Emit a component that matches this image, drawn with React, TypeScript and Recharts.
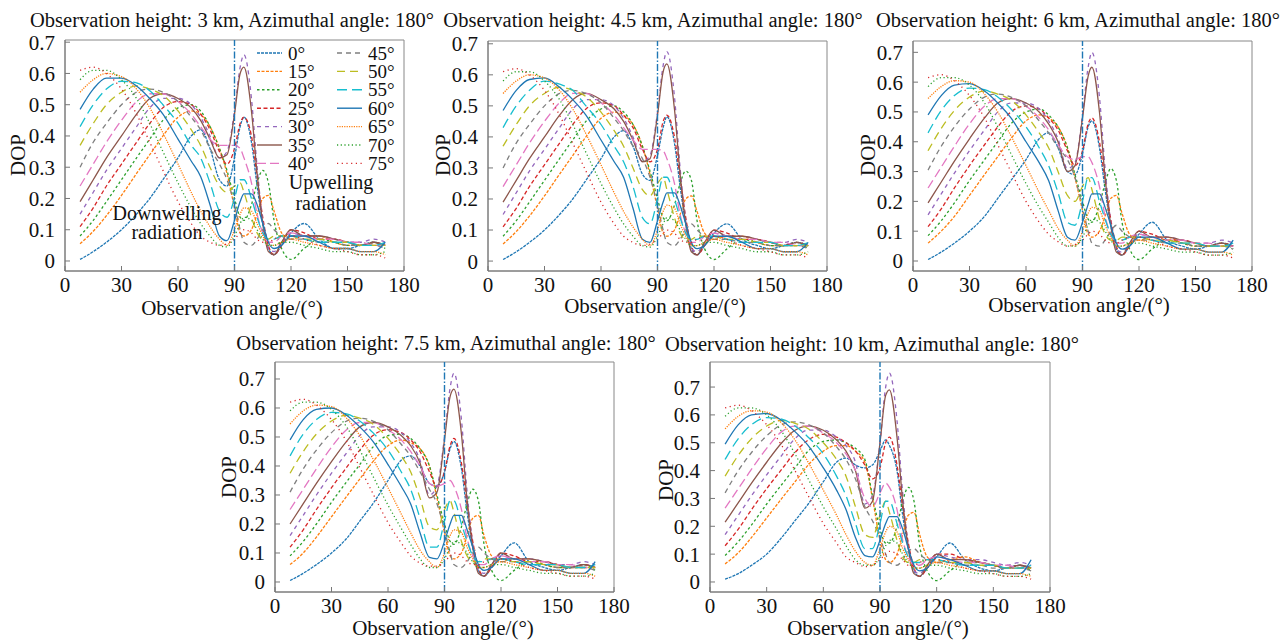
import React from 'react';
import { LineChart, Line, XAxis, YAxis, ReferenceLine, ReferenceArea } from 'recharts';

// observation angles (deg) where the curves are sampled
const angles = [8, 15, 22, 30, 38, 45, 52, 60, 67, 72, 77, 82, 86, 90, 93, 95, 99, 102, 105, 108, 111, 115, 120, 127, 135, 143, 150, 157, 164, 170];

// solar zenith angle of each series
const zenithLabels = ['0°', '15°', '20°', '25°', '30°', '35°', '40°', '45°', '50°', '55°', '60°', '65°', '70°', '75°'];

const xTicks = [0, 30, 60, 90, 120, 150, 180];
const yTicks = [0, 0.1, 0.2, 0.3, 0.4, 0.5, 0.6, 0.7];

// DOP values, one row per zenith angle (same order as zenithLabels)
const dop3km = [
    [0.005, 0.03, 0.06, 0.10, 0.15, 0.20, 0.26, 0.33, 0.40, 0.42, 0.36, 0.26, 0.24, 0.33, 0.43, 0.46, 0.38, 0.24, 0.12, 0.04, 0.02, 0.05, 0.09, 0.12, 0.07, 0.04, 0.04, 0.05, 0.06, 0.05],
    [0.055, 0.095, 0.145, 0.21, 0.28, 0.34, 0.40, 0.46, 0.48, 0.47, 0.43, 0.36, 0.28, 0.17, 0.09, 0.08, 0.10, 0.15, 0.20, 0.21, 0.16, 0.09, 0.07, 0.08, 0.08, 0.06, 0.05, 0.05, 0.05, 0.05],
    [0.08, 0.13, 0.19, 0.26, 0.33, 0.39, 0.45, 0.49, 0.50, 0.48, 0.43, 0.36, 0.29, 0.20, 0.14, 0.13, 0.18, 0.25, 0.29, 0.25, 0.13, 0.04, 0.005, 0.04, 0.07, 0.06, 0.05, 0.05, 0.06, 0.04],
    [0.11, 0.17, 0.24, 0.31, 0.38, 0.44, 0.49, 0.51, 0.50, 0.47, 0.42, 0.35, 0.31, 0.36, 0.44, 0.46, 0.40, 0.27, 0.14, 0.05, 0.02, 0.05, 0.10, 0.09, 0.07, 0.07, 0.06, 0.05, 0.06, 0.05],
    [0.15, 0.22, 0.29, 0.36, 0.43, 0.49, 0.52, 0.52, 0.50, 0.46, 0.40, 0.33, 0.35, 0.48, 0.62, 0.66, 0.52, 0.30, 0.13, 0.04, 0.03, 0.06, 0.09, 0.08, 0.08, 0.07, 0.06, 0.06, 0.07, 0.06],
    [0.19, 0.26, 0.33, 0.40, 0.47, 0.52, 0.535, 0.52, 0.49, 0.45, 0.39, 0.33, 0.34, 0.47, 0.60, 0.62, 0.48, 0.28, 0.12, 0.03, 0.02, 0.06, 0.10, 0.08, 0.08, 0.07, 0.06, 0.05, 0.06, 0.05],
    [0.24, 0.31, 0.38, 0.45, 0.51, 0.535, 0.535, 0.51, 0.47, 0.43, 0.39, 0.37, 0.37, 0.37, 0.36, 0.33, 0.25, 0.15, 0.09, 0.06, 0.06, 0.08, 0.09, 0.08, 0.07, 0.07, 0.06, 0.06, 0.05, 0.05],
    [0.30, 0.38, 0.44, 0.50, 0.54, 0.55, 0.54, 0.51, 0.46, 0.42, 0.36, 0.31, 0.26, 0.18, 0.10, 0.06, 0.05, 0.07, 0.10, 0.12, 0.10, 0.08, 0.07, 0.07, 0.06, 0.06, 0.05, 0.05, 0.05, 0.04],
    [0.37, 0.44, 0.50, 0.54, 0.56, 0.55, 0.53, 0.48, 0.42, 0.37, 0.30, 0.24, 0.22, 0.24, 0.25, 0.22, 0.14, 0.09, 0.07, 0.07, 0.08, 0.08, 0.08, 0.07, 0.07, 0.06, 0.06, 0.05, 0.05, 0.05],
    [0.43, 0.50, 0.55, 0.575, 0.57, 0.545, 0.50, 0.44, 0.37, 0.33, 0.25, 0.16, 0.14, 0.20, 0.26, 0.26, 0.20, 0.14, 0.09, 0.07, 0.07, 0.08, 0.08, 0.07, 0.06, 0.06, 0.06, 0.05, 0.05, 0.06],
    [0.485, 0.55, 0.585, 0.585, 0.56, 0.52, 0.47, 0.39, 0.32, 0.27, 0.18, 0.08, 0.065, 0.13, 0.19, 0.215, 0.215, 0.18, 0.12, 0.06, 0.04, 0.05, 0.08, 0.08, 0.06, 0.04, 0.04, 0.03, 0.03, 0.06],
    [0.54, 0.58, 0.60, 0.59, 0.55, 0.49, 0.41, 0.31, 0.22, 0.16, 0.11, 0.07, 0.05, 0.10, 0.15, 0.17, 0.16, 0.12, 0.08, 0.05, 0.05, 0.06, 0.07, 0.06, 0.05, 0.04, 0.04, 0.03, 0.03, 0.02],
    [0.58, 0.61, 0.61, 0.58, 0.52, 0.44, 0.35, 0.25, 0.17, 0.12, 0.08, 0.05, 0.045, 0.08, 0.12, 0.14, 0.13, 0.10, 0.07, 0.05, 0.05, 0.06, 0.06, 0.05, 0.04, 0.03, 0.03, 0.02, 0.02, 0.03],
    [0.61, 0.62, 0.60, 0.55, 0.47, 0.38, 0.29, 0.19, 0.12, 0.08, 0.06, 0.05, 0.055, 0.07, 0.09, 0.10, 0.09, 0.07, 0.06, 0.06, 0.07, 0.08, 0.08, 0.07, 0.05, 0.04, 0.03, 0.02, 0.02, 0.01],
];

const dop4_5km = [
    [0.005, 0.03, 0.06, 0.10, 0.15, 0.20, 0.26, 0.33, 0.40, 0.42, 0.37, 0.28, 0.26, 0.34, 0.43, 0.465, 0.38, 0.24, 0.12, 0.04, 0.02, 0.05, 0.09, 0.12, 0.07, 0.05, 0.04, 0.05, 0.06, 0.05],
    [0.055, 0.095, 0.145, 0.21, 0.28, 0.34, 0.40, 0.46, 0.48, 0.47, 0.44, 0.37, 0.28, 0.17, 0.09, 0.08, 0.10, 0.15, 0.20, 0.21, 0.16, 0.09, 0.07, 0.08, 0.08, 0.06, 0.05, 0.05, 0.05, 0.05],
    [0.08, 0.13, 0.19, 0.26, 0.33, 0.39, 0.45, 0.49, 0.50, 0.48, 0.44, 0.37, 0.29, 0.20, 0.14, 0.13, 0.18, 0.25, 0.29, 0.26, 0.13, 0.04, 0.005, 0.04, 0.07, 0.06, 0.05, 0.05, 0.06, 0.04],
    [0.11, 0.17, 0.24, 0.31, 0.38, 0.44, 0.49, 0.51, 0.50, 0.47, 0.43, 0.36, 0.32, 0.36, 0.45, 0.47, 0.40, 0.27, 0.14, 0.05, 0.02, 0.05, 0.10, 0.09, 0.07, 0.07, 0.06, 0.05, 0.06, 0.05],
    [0.15, 0.22, 0.29, 0.36, 0.43, 0.49, 0.52, 0.52, 0.50, 0.46, 0.40, 0.32, 0.34, 0.48, 0.63, 0.675, 0.53, 0.30, 0.13, 0.04, 0.03, 0.06, 0.09, 0.08, 0.08, 0.07, 0.06, 0.06, 0.07, 0.06],
    [0.19, 0.26, 0.33, 0.40, 0.47, 0.52, 0.54, 0.52, 0.49, 0.45, 0.39, 0.32, 0.33, 0.47, 0.61, 0.635, 0.49, 0.28, 0.12, 0.03, 0.02, 0.06, 0.10, 0.08, 0.08, 0.07, 0.06, 0.05, 0.06, 0.05],
    [0.24, 0.31, 0.38, 0.45, 0.51, 0.54, 0.54, 0.51, 0.47, 0.43, 0.39, 0.36, 0.36, 0.36, 0.355, 0.33, 0.25, 0.15, 0.09, 0.06, 0.06, 0.08, 0.09, 0.08, 0.07, 0.07, 0.06, 0.06, 0.05, 0.05],
    [0.30, 0.38, 0.44, 0.50, 0.54, 0.55, 0.54, 0.51, 0.46, 0.42, 0.37, 0.33, 0.27, 0.18, 0.10, 0.06, 0.05, 0.07, 0.10, 0.12, 0.10, 0.08, 0.07, 0.07, 0.06, 0.06, 0.05, 0.05, 0.05, 0.04],
    [0.37, 0.44, 0.50, 0.54, 0.56, 0.55, 0.53, 0.48, 0.42, 0.37, 0.30, 0.23, 0.21, 0.25, 0.27, 0.23, 0.14, 0.09, 0.07, 0.07, 0.08, 0.08, 0.08, 0.07, 0.07, 0.06, 0.06, 0.05, 0.05, 0.05],
    [0.43, 0.50, 0.55, 0.58, 0.57, 0.55, 0.50, 0.44, 0.37, 0.32, 0.24, 0.14, 0.12, 0.20, 0.27, 0.27, 0.20, 0.14, 0.09, 0.07, 0.07, 0.08, 0.08, 0.07, 0.06, 0.06, 0.06, 0.05, 0.05, 0.06],
    [0.485, 0.55, 0.585, 0.59, 0.56, 0.52, 0.47, 0.39, 0.32, 0.27, 0.17, 0.07, 0.06, 0.13, 0.19, 0.22, 0.22, 0.18, 0.12, 0.06, 0.04, 0.05, 0.08, 0.08, 0.06, 0.04, 0.04, 0.03, 0.03, 0.06],
    [0.54, 0.58, 0.60, 0.59, 0.55, 0.49, 0.41, 0.31, 0.22, 0.16, 0.11, 0.07, 0.05, 0.10, 0.16, 0.18, 0.17, 0.12, 0.08, 0.05, 0.05, 0.06, 0.07, 0.06, 0.05, 0.04, 0.04, 0.03, 0.03, 0.02],
    [0.58, 0.61, 0.61, 0.58, 0.52, 0.44, 0.35, 0.25, 0.17, 0.12, 0.08, 0.05, 0.045, 0.08, 0.12, 0.14, 0.13, 0.10, 0.07, 0.05, 0.05, 0.06, 0.06, 0.05, 0.04, 0.03, 0.03, 0.02, 0.02, 0.03],
    [0.61, 0.62, 0.60, 0.55, 0.47, 0.38, 0.29, 0.19, 0.12, 0.08, 0.06, 0.05, 0.055, 0.07, 0.09, 0.10, 0.09, 0.07, 0.06, 0.06, 0.07, 0.08, 0.08, 0.07, 0.05, 0.04, 0.03, 0.02, 0.02, 0.01],
];

const dop6km = [
    [0.005, 0.03, 0.06, 0.10, 0.15, 0.21, 0.27, 0.34, 0.41, 0.43, 0.38, 0.30, 0.29, 0.36, 0.45, 0.47, 0.38, 0.24, 0.12, 0.04, 0.02, 0.05, 0.09, 0.13, 0.07, 0.05, 0.04, 0.05, 0.06, 0.05],
    [0.06, 0.10, 0.15, 0.22, 0.29, 0.35, 0.41, 0.47, 0.49, 0.48, 0.45, 0.38, 0.28, 0.17, 0.09, 0.08, 0.10, 0.15, 0.21, 0.22, 0.16, 0.09, 0.07, 0.08, 0.08, 0.06, 0.05, 0.05, 0.05, 0.05],
    [0.085, 0.135, 0.195, 0.27, 0.34, 0.40, 0.46, 0.50, 0.51, 0.49, 0.45, 0.38, 0.29, 0.20, 0.14, 0.13, 0.19, 0.26, 0.31, 0.27, 0.13, 0.04, 0.005, 0.04, 0.07, 0.06, 0.05, 0.05, 0.06, 0.04],
    [0.115, 0.175, 0.245, 0.32, 0.39, 0.45, 0.50, 0.52, 0.51, 0.48, 0.44, 0.37, 0.32, 0.37, 0.46, 0.48, 0.40, 0.27, 0.14, 0.05, 0.02, 0.05, 0.10, 0.09, 0.07, 0.07, 0.06, 0.05, 0.06, 0.05],
    [0.155, 0.225, 0.295, 0.37, 0.44, 0.50, 0.53, 0.53, 0.51, 0.47, 0.41, 0.31, 0.33, 0.49, 0.65, 0.70, 0.55, 0.31, 0.13, 0.04, 0.03, 0.06, 0.09, 0.08, 0.08, 0.07, 0.06, 0.06, 0.07, 0.06],
    [0.195, 0.265, 0.335, 0.41, 0.48, 0.53, 0.545, 0.53, 0.50, 0.46, 0.40, 0.30, 0.32, 0.48, 0.62, 0.65, 0.50, 0.28, 0.12, 0.03, 0.02, 0.06, 0.10, 0.08, 0.08, 0.07, 0.06, 0.05, 0.06, 0.05],
    [0.245, 0.315, 0.385, 0.46, 0.52, 0.545, 0.545, 0.52, 0.48, 0.44, 0.39, 0.35, 0.34, 0.35, 0.35, 0.33, 0.25, 0.15, 0.09, 0.06, 0.06, 0.08, 0.09, 0.08, 0.07, 0.07, 0.06, 0.06, 0.05, 0.05],
    [0.305, 0.385, 0.45, 0.51, 0.55, 0.56, 0.55, 0.52, 0.47, 0.43, 0.38, 0.34, 0.28, 0.18, 0.10, 0.06, 0.05, 0.07, 0.10, 0.12, 0.10, 0.08, 0.07, 0.07, 0.06, 0.06, 0.05, 0.05, 0.05, 0.04],
    [0.37, 0.445, 0.505, 0.55, 0.57, 0.56, 0.54, 0.49, 0.43, 0.38, 0.30, 0.22, 0.20, 0.25, 0.28, 0.24, 0.14, 0.09, 0.07, 0.07, 0.08, 0.08, 0.08, 0.07, 0.07, 0.06, 0.06, 0.05, 0.05, 0.05],
    [0.43, 0.505, 0.555, 0.58, 0.575, 0.55, 0.51, 0.45, 0.38, 0.32, 0.23, 0.13, 0.12, 0.20, 0.28, 0.28, 0.20, 0.14, 0.09, 0.07, 0.07, 0.08, 0.08, 0.07, 0.06, 0.06, 0.06, 0.05, 0.05, 0.06],
    [0.49, 0.555, 0.59, 0.595, 0.57, 0.53, 0.48, 0.40, 0.33, 0.27, 0.17, 0.08, 0.07, 0.13, 0.19, 0.225, 0.225, 0.18, 0.12, 0.06, 0.04, 0.05, 0.08, 0.08, 0.06, 0.04, 0.04, 0.03, 0.03, 0.07],
    [0.545, 0.585, 0.605, 0.60, 0.56, 0.50, 0.42, 0.32, 0.23, 0.17, 0.11, 0.07, 0.05, 0.10, 0.16, 0.18, 0.17, 0.12, 0.08, 0.05, 0.05, 0.06, 0.07, 0.06, 0.05, 0.04, 0.04, 0.03, 0.03, 0.02],
    [0.585, 0.615, 0.615, 0.59, 0.53, 0.45, 0.36, 0.26, 0.18, 0.13, 0.08, 0.05, 0.05, 0.08, 0.12, 0.14, 0.13, 0.10, 0.07, 0.05, 0.05, 0.06, 0.06, 0.05, 0.04, 0.03, 0.03, 0.02, 0.02, 0.03],
    [0.615, 0.625, 0.605, 0.555, 0.48, 0.39, 0.30, 0.20, 0.13, 0.09, 0.065, 0.05, 0.055, 0.07, 0.09, 0.10, 0.09, 0.07, 0.06, 0.06, 0.07, 0.08, 0.08, 0.07, 0.05, 0.04, 0.03, 0.02, 0.02, 0.01],
];

const dop7_5km = [
    [0.005, 0.03, 0.06, 0.10, 0.15, 0.21, 0.27, 0.35, 0.42, 0.435, 0.40, 0.34, 0.33, 0.38, 0.46, 0.485, 0.39, 0.24, 0.12, 0.04, 0.02, 0.05, 0.09, 0.135, 0.07, 0.05, 0.04, 0.05, 0.06, 0.05],
    [0.06, 0.10, 0.155, 0.225, 0.295, 0.355, 0.415, 0.47, 0.49, 0.48, 0.46, 0.40, 0.29, 0.17, 0.09, 0.08, 0.10, 0.16, 0.22, 0.23, 0.16, 0.09, 0.07, 0.08, 0.08, 0.06, 0.05, 0.05, 0.05, 0.05],
    [0.09, 0.14, 0.20, 0.275, 0.345, 0.405, 0.465, 0.505, 0.51, 0.495, 0.46, 0.40, 0.30, 0.20, 0.14, 0.13, 0.19, 0.27, 0.32, 0.28, 0.13, 0.04, 0.005, 0.04, 0.07, 0.06, 0.05, 0.05, 0.06, 0.04],
    [0.12, 0.18, 0.25, 0.325, 0.395, 0.455, 0.505, 0.525, 0.515, 0.49, 0.45, 0.38, 0.33, 0.38, 0.47, 0.495, 0.41, 0.27, 0.14, 0.05, 0.02, 0.05, 0.10, 0.09, 0.07, 0.07, 0.06, 0.05, 0.06, 0.05],
    [0.16, 0.23, 0.30, 0.375, 0.445, 0.505, 0.535, 0.535, 0.515, 0.48, 0.42, 0.30, 0.33, 0.50, 0.67, 0.72, 0.56, 0.31, 0.13, 0.04, 0.03, 0.06, 0.09, 0.08, 0.08, 0.07, 0.06, 0.06, 0.07, 0.06],
    [0.20, 0.27, 0.34, 0.415, 0.485, 0.535, 0.55, 0.535, 0.505, 0.47, 0.41, 0.29, 0.31, 0.49, 0.64, 0.665, 0.51, 0.28, 0.12, 0.03, 0.02, 0.06, 0.10, 0.08, 0.08, 0.07, 0.06, 0.05, 0.06, 0.05],
    [0.25, 0.32, 0.39, 0.465, 0.525, 0.55, 0.55, 0.525, 0.49, 0.45, 0.40, 0.34, 0.33, 0.34, 0.35, 0.33, 0.25, 0.15, 0.09, 0.06, 0.06, 0.08, 0.09, 0.08, 0.07, 0.07, 0.06, 0.06, 0.05, 0.05],
    [0.31, 0.39, 0.455, 0.515, 0.555, 0.565, 0.555, 0.525, 0.475, 0.435, 0.38, 0.32, 0.27, 0.18, 0.10, 0.06, 0.05, 0.07, 0.10, 0.12, 0.10, 0.08, 0.07, 0.07, 0.06, 0.06, 0.05, 0.05, 0.05, 0.04],
    [0.375, 0.45, 0.51, 0.555, 0.575, 0.565, 0.545, 0.495, 0.435, 0.38, 0.29, 0.19, 0.18, 0.25, 0.28, 0.24, 0.14, 0.09, 0.07, 0.07, 0.08, 0.08, 0.08, 0.07, 0.07, 0.06, 0.06, 0.05, 0.05, 0.05],
    [0.435, 0.51, 0.56, 0.585, 0.58, 0.555, 0.515, 0.455, 0.38, 0.32, 0.22, 0.12, 0.12, 0.21, 0.28, 0.28, 0.20, 0.14, 0.09, 0.07, 0.07, 0.08, 0.08, 0.07, 0.06, 0.06, 0.06, 0.05, 0.05, 0.06],
    [0.49, 0.56, 0.595, 0.60, 0.575, 0.535, 0.485, 0.405, 0.33, 0.27, 0.17, 0.085, 0.08, 0.14, 0.20, 0.23, 0.23, 0.18, 0.12, 0.06, 0.04, 0.05, 0.08, 0.08, 0.06, 0.04, 0.04, 0.03, 0.03, 0.07],
    [0.545, 0.59, 0.61, 0.605, 0.565, 0.505, 0.425, 0.325, 0.235, 0.17, 0.11, 0.07, 0.05, 0.10, 0.16, 0.18, 0.17, 0.12, 0.08, 0.05, 0.05, 0.06, 0.07, 0.06, 0.05, 0.04, 0.04, 0.03, 0.03, 0.02],
    [0.59, 0.62, 0.62, 0.595, 0.535, 0.455, 0.365, 0.265, 0.185, 0.13, 0.08, 0.05, 0.05, 0.08, 0.12, 0.14, 0.13, 0.10, 0.07, 0.05, 0.05, 0.06, 0.06, 0.05, 0.04, 0.03, 0.03, 0.02, 0.02, 0.03],
    [0.62, 0.63, 0.61, 0.56, 0.485, 0.395, 0.305, 0.205, 0.135, 0.09, 0.065, 0.055, 0.055, 0.07, 0.09, 0.10, 0.09, 0.07, 0.06, 0.06, 0.07, 0.08, 0.08, 0.07, 0.05, 0.04, 0.03, 0.02, 0.02, 0.01],
];

const dop10km = [
    [0.01, 0.03, 0.06, 0.10, 0.16, 0.22, 0.28, 0.36, 0.43, 0.445, 0.42, 0.41, 0.42, 0.47, 0.51, 0.49, 0.40, 0.24, 0.12, 0.04, 0.02, 0.05, 0.09, 0.14, 0.08, 0.05, 0.04, 0.05, 0.06, 0.05],
    [0.065, 0.105, 0.16, 0.23, 0.30, 0.36, 0.42, 0.47, 0.49, 0.49, 0.47, 0.43, 0.30, 0.15, 0.08, 0.07, 0.10, 0.17, 0.24, 0.25, 0.17, 0.09, 0.07, 0.08, 0.09, 0.07, 0.06, 0.05, 0.05, 0.05],
    [0.095, 0.145, 0.205, 0.28, 0.35, 0.41, 0.47, 0.505, 0.51, 0.50, 0.48, 0.44, 0.31, 0.19, 0.14, 0.14, 0.20, 0.29, 0.34, 0.29, 0.13, 0.04, 0.005, 0.04, 0.07, 0.07, 0.06, 0.05, 0.06, 0.04],
    [0.13, 0.19, 0.26, 0.335, 0.405, 0.465, 0.51, 0.53, 0.52, 0.50, 0.47, 0.42, 0.37, 0.41, 0.50, 0.52, 0.42, 0.27, 0.14, 0.05, 0.02, 0.05, 0.10, 0.10, 0.08, 0.07, 0.06, 0.05, 0.06, 0.05],
    [0.17, 0.24, 0.31, 0.385, 0.455, 0.515, 0.545, 0.545, 0.52, 0.49, 0.43, 0.28, 0.31, 0.50, 0.70, 0.75, 0.58, 0.32, 0.13, 0.04, 0.03, 0.06, 0.10, 0.09, 0.08, 0.08, 0.07, 0.06, 0.07, 0.06],
    [0.215, 0.285, 0.355, 0.43, 0.50, 0.545, 0.56, 0.545, 0.51, 0.47, 0.40, 0.265, 0.29, 0.50, 0.67, 0.69, 0.52, 0.29, 0.12, 0.03, 0.02, 0.06, 0.10, 0.08, 0.08, 0.07, 0.06, 0.05, 0.06, 0.05],
    [0.265, 0.335, 0.405, 0.48, 0.54, 0.56, 0.56, 0.535, 0.50, 0.46, 0.40, 0.30, 0.27, 0.32, 0.355, 0.34, 0.26, 0.15, 0.09, 0.06, 0.06, 0.08, 0.09, 0.08, 0.07, 0.07, 0.06, 0.06, 0.05, 0.05],
    [0.32, 0.40, 0.465, 0.525, 0.565, 0.575, 0.565, 0.535, 0.485, 0.44, 0.37, 0.27, 0.22, 0.16, 0.10, 0.07, 0.06, 0.08, 0.11, 0.12, 0.10, 0.08, 0.07, 0.07, 0.06, 0.06, 0.05, 0.05, 0.05, 0.04],
    [0.38, 0.455, 0.515, 0.56, 0.58, 0.57, 0.55, 0.50, 0.44, 0.38, 0.27, 0.17, 0.16, 0.24, 0.29, 0.25, 0.15, 0.09, 0.07, 0.07, 0.08, 0.08, 0.08, 0.07, 0.07, 0.06, 0.06, 0.05, 0.05, 0.05],
    [0.44, 0.515, 0.565, 0.59, 0.585, 0.56, 0.52, 0.46, 0.38, 0.31, 0.21, 0.12, 0.12, 0.21, 0.29, 0.29, 0.21, 0.14, 0.09, 0.07, 0.07, 0.08, 0.08, 0.07, 0.06, 0.06, 0.06, 0.05, 0.05, 0.06],
    [0.495, 0.565, 0.60, 0.605, 0.58, 0.54, 0.49, 0.41, 0.33, 0.26, 0.16, 0.095, 0.09, 0.15, 0.21, 0.235, 0.235, 0.19, 0.12, 0.06, 0.04, 0.05, 0.09, 0.08, 0.06, 0.04, 0.04, 0.03, 0.03, 0.08],
    [0.55, 0.595, 0.615, 0.61, 0.57, 0.51, 0.43, 0.33, 0.24, 0.17, 0.11, 0.07, 0.06, 0.12, 0.18, 0.20, 0.18, 0.12, 0.08, 0.05, 0.05, 0.06, 0.07, 0.06, 0.05, 0.04, 0.04, 0.03, 0.03, 0.02],
    [0.595, 0.625, 0.625, 0.60, 0.54, 0.46, 0.37, 0.27, 0.19, 0.13, 0.08, 0.06, 0.06, 0.09, 0.13, 0.15, 0.14, 0.10, 0.07, 0.05, 0.05, 0.06, 0.06, 0.05, 0.04, 0.03, 0.03, 0.02, 0.02, 0.03],
    [0.625, 0.635, 0.615, 0.565, 0.49, 0.40, 0.31, 0.21, 0.14, 0.09, 0.07, 0.055, 0.06, 0.08, 0.10, 0.11, 0.10, 0.08, 0.06, 0.06, 0.07, 0.08, 0.08, 0.07, 0.05, 0.04, 0.03, 0.02, 0.02, 0.01],
];

const FONT = '"Liberation Serif", "Times New Roman", serif';

const seriesColors = ['#1f77b4', '#ff7f0e', '#2ca02c', '#d62728', '#9467bd', '#8c564b', '#e377c2', '#7f7f7f', '#bcbd22', '#17becf', '#1f77b4', '#ff7f0e', '#2ca02c', '#d62728'];
const seriesDash = ['3 1', '3 1.5', '2.5 2.5', '4 2.5', '4 4', '', '9 4', '5 4', '8 5', '10 5', '', '1.2 1.2', '1.2 2.5', '1.2 3.5'];

// page layout of each subplot: plot box edges in px, y domain, text anchors
const panels = [
    { title: 'Observation height: 3 km, Azimuthal angle: 180°', dop: dop3km, l: 65, r: 404, t: 40, b: 271, yMin: -0.032, yMax: 0.707, titleX: 232, titleY: 27, labelX: 232, labelY: 315, dopX: 18, dopY: 155 },
    { title: 'Observation height: 4.5 km, Azimuthal angle: 180°', dop: dop4_5km, l: 488, r: 827, t: 41, b: 271, yMin: -0.032, yMax: 0.709, titleX: 653, titleY: 27, labelX: 655, labelY: 313, dopX: 443, dopY: 155 },
    { title: 'Observation height: 6 km, Azimuthal angle: 180°', dop: dop6km, l: 913, r: 1252, t: 41, b: 271, yMin: -0.0335, yMax: 0.738, titleX: 1078, titleY: 27, labelX: 1079, labelY: 312, dopX: 868, dopY: 155 },
    { title: 'Observation height: 7.5 km, Azimuthal angle: 180°', dop: dop7_5km, l: 275, r: 614, t: 362, b: 592, yMin: -0.0345, yMax: 0.7586, titleX: 446, titleY: 350, labelX: 443, labelY: 635, dopX: 229, dopY: 477 },
    { title: 'Observation height: 10 km, Azimuthal angle: 180°', dop: dop10km, l: 710, r: 1050, t: 362, b: 592, yMin: -0.036, yMax: 0.79, titleX: 872, titleY: 351, labelX: 878, labelY: 635, dopX: 666, dopY: 480 },
];

const buildRows = (dop: number[][]) =>
    angles.map((a, i) => {
        const row: Record<string, number> = { angle: a };
        dop.forEach((s, k) => {
            row[`z${k}`] = s[i];
        });
        return row;
    });

const tickStyle = { fontSize: 21, fill: '#111', fontFamily: FONT };
const AXIS_W = 60;
const PAD_T = 15;
const PAD_R = 28;
const AXIS_H = 40;

function Panel({ p }: { p: (typeof panels)[number] }) {
    const w = p.r - p.l;
    const h = p.b - p.t;
    const rows = buildRows(p.dop);
    return (
        <div style={{ position: 'absolute', left: p.l - AXIS_W, top: p.t - PAD_T }}>
            <LineChart width={w + AXIS_W + PAD_R} height={h + PAD_T + AXIS_H} data={rows} margin={{ top: PAD_T, right: PAD_R, bottom: 0, left: 0 }}>
                <XAxis
                    dataKey="angle"
                    type="number"
                    domain={[0, 180]}
                    ticks={xTicks}
                    interval={0}
                    height={AXIS_H}
                    tick={tickStyle}
                    tickSize={-5}
                    tickMargin={11}
                    stroke="#777"
                    allowDataOverflow
                />
                <YAxis
                    type="number"
                    domain={[p.yMin, p.yMax]}
                    ticks={yTicks}
                    interval={0}
                    width={AXIS_W}
                    tick={tickStyle}
                    tickSize={-5}
                    tickMargin={15}
                    stroke="#777"
                    tickFormatter={(v: number) => (v === 0 ? '0' : v.toFixed(1))}
                    allowDataOverflow
                />
                <ReferenceArea x1={0} x2={180} y1={p.yMin} y2={p.yMax} fill="none" stroke="#888" strokeWidth={1} />
                {zenithLabels.map((z, k) => (
                    <Line
                        key={z}
                        type="monotone"
                        dataKey={`z${k}`}
                        stroke={seriesColors[k]}
                        strokeDasharray={seriesDash[k] || undefined}
                        strokeWidth={1.3}
                        dot={false}
                        isAnimationActive={false}
                    />
                ))}
                <ReferenceLine x={90} stroke="#1f77b4" strokeWidth={1.4} strokeDasharray="7 2 1.5 2" />
            </LineChart>
        </div>
    );
}

function Legend3km() {
    const rowY = (i: number) => 53 + i * 18.4;
    return (
        <g>
            {zenithLabels.map((z, k) => {
                const col = k < 7 ? 0 : 1;
                const row = k % 7;
                const x0 = col === 0 ? 257 : 337;
                const y = rowY(row);
                return (
                    <g key={z}>
                        <line x1={x0} x2={x0 + 25} y1={y} y2={y} stroke={seriesColors[k]} strokeWidth={1.4} strokeDasharray={seriesDash[k] || undefined} />
                        <text x={x0 + 31} y={y + 6.5} fontSize={19} fontFamily={FONT} fill="#111">
                            {z}
                        </text>
                    </g>
                );
            })}
        </g>
    );
}

export default function App() {
    return (
        <div style={{ position: 'absolute', left: 0, top: 0, width: 1280, height: 641, background: '#fff', overflow: 'hidden' }}>
            {panels.map((p) => (
                <Panel key={p.title} p={p} />
            ))}
            <svg width={1280} height={641} style={{ position: 'absolute', left: 0, top: 0, pointerEvents: 'none' }}>
                {panels.map((p) => (
                    <g key={p.title} fontFamily={FONT} fill="#111">
                        <text x={p.titleX} y={p.titleY} fontSize={20.5} textAnchor="middle">
                            {p.title}
                        </text>
                        <text x={p.labelX} y={p.labelY} fontSize={21} textAnchor="middle">
                            Observation angle/(°)
                        </text>
                        <text x={p.dopX} y={p.dopY} fontSize={21} textAnchor="middle" dominantBaseline="central" transform={`rotate(-90 ${p.dopX} ${p.dopY})`}>
                            DOP
                        </text>
                    </g>
                ))}
                <g fontFamily={FONT} fill="#111" fontSize={20} textAnchor="middle">
                    <text x={167} y={220}>Downwelling</text>
                    <text x={167} y={239}>radiation</text>
                    <text x={331} y={189}>Upwelling</text>
                    <text x={331} y={210}>radiation</text>
                </g>
                <Legend3km />
            </svg>
        </div>
    );
}
